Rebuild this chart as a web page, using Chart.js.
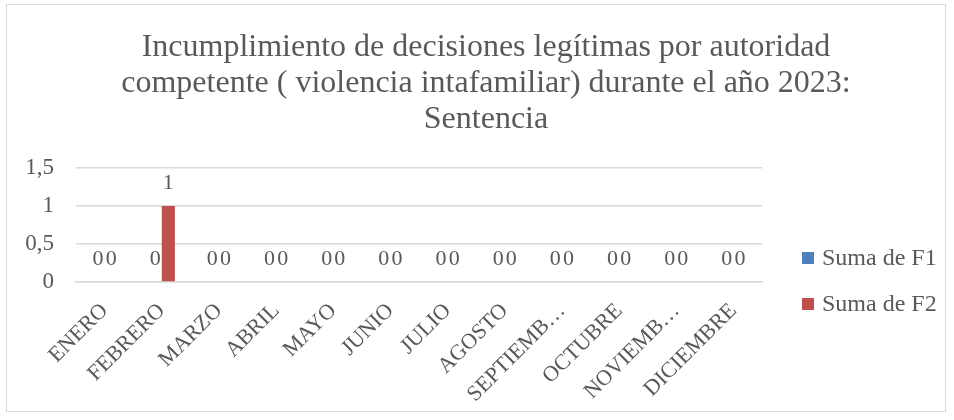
<!DOCTYPE html>
<html>
<head>
<meta charset="utf-8">
<script src="https://cdn.jsdelivr.net/npm/chart.js@4"></script>
<style>
  body { margin: 0; background: #fff; }
  #wrap { position: absolute; left: 6px; top: 4px; width: 938px; height: 406px; border: 1px solid #d9d9d9; }
</style>
</head>
<body>
<div id="wrap"><canvas id="grafico"></canvas></div>
<script>
// Datos del gráfico
const meses = ['ENERO', 'FEBRERO', 'MARZO', 'ABRIL', 'MAYO', 'JUNIO', 'JULIO',
    'AGOSTO', 'SEPTIEMBRE', 'OCTUBRE', 'NOVIEMBRE', 'DICIEMBRE'];
const etiquetasX = ['ENERO', 'FEBRERO', 'MARZO', 'ABRIL', 'MAYO', 'JUNIO', 'JULIO',
    'AGOSTO', 'SEPTIEMB…', 'OCTUBRE', 'NOVIEMB…', 'DICIEMBRE'];
const sumaF1 = [0, 0, 0, 0, 0, 0, 0, 0, 0, 0, 0, 0];
const sumaF2 = [0, 1, 0, 0, 0, 0, 0, 0, 0, 0, 0, 0];
const ticksY = [0, 0.5, 1, 1.5];
const titulo = ['Incumplimiento de decisiones legítimas por autoridad',
    'competente ( violencia intafamiliar) durante el año 2023:',
    'Sentencia'];

const serif = "'Liberation Serif', 'DejaVu Serif', serif";
const gris = '#595959';

// Título, leyenda y etiquetas de datos dibujados a mano
const extras = {
    id: 'extras',
    afterDatasetsDraw(chart) {
        const ctx = chart.ctx;
        ctx.save();
        ctx.fillStyle = gris;

        // etiquetas de datos
        ctx.font = '22px ' + serif;
        ctx.textAlign = 'center';
        ctx.textBaseline = 'alphabetic';
        chart.data.datasets.forEach((ds, i) => {
            chart.getDatasetMeta(i).data.forEach((bar, j) => {
                ctx.fillText(String(ds.data[j]).replace('.', ','), bar.x, bar.y - 17);
            });
        });

        // título
        ctx.font = '32px ' + serif;
        ctx.textBaseline = 'middle';
        titulo.forEach((linea, k) => ctx.fillText(linea, 479, 43 + k * 36));

        // leyenda
        ctx.font = '24px ' + serif;
        ctx.textAlign = 'left';
        chart.data.datasets.forEach((ds, i) => {
            const y = 253 + i * 46;
            ctx.fillStyle = ds.backgroundColor;
            ctx.fillRect(795, y - 6, 12, 12);
            ctx.fillStyle = gris;
            ctx.fillText(ds.label, 815, y + 1);
        });
        ctx.restore();
    }
};

new Chart(document.getElementById('grafico'), {
    type: 'bar',
    data: {
        labels: meses,
        datasets: [
            { label: 'Suma de F1', data: sumaF1, backgroundColor: '#4f81bd' },
            { label: 'Suma de F2', data: sumaF2, backgroundColor: '#c0504d' }
        ]
    },
    options: {
        responsive: true,
        maintainAspectRatio: false,
        animation: false,
        layout: { autoPadding: false, padding: { left: 18, right: 183, top: 163, bottom: 0 } },
        datasets: { bar: { categoryPercentage: 0.46, barPercentage: 1 } },
        plugins: {
            title: { display: false },
            legend: { display: false },
            tooltip: { enabled: false }
        },
        scales: {
            y: {
                min: 0,
                max: 1.5,
                afterBuildTicks: axis => { axis.ticks = ticksY.map(v => ({ value: v })); },
                afterFit: s => { s.width = 51; },
                ticks: {
                    font: { family: serif, size: 23 },
                    color: gris,
                    padding: 22,
                    callback: v => String(v).replace('.', ',')
                },
                grid: { color: '#d9d9d9', drawTicks: false, lineWidth: 1.5 },
                border: { display: false }
            },
            x: {
                afterFit: s => { s.height = 129; },
                ticks: {
                    font: { family: serif, size: 22 },
                    color: gris,
                    minRotation: 45,
                    maxRotation: 45,
                    padding: 8,
                    callback: (v, i) => etiquetasX[i]
                },
                grid: { display: false },
                border: { color: '#d9d9d9', width: 1.5 }
            }
        }
    },
    plugins: [extras]
});
</script>
</body>
</html>
